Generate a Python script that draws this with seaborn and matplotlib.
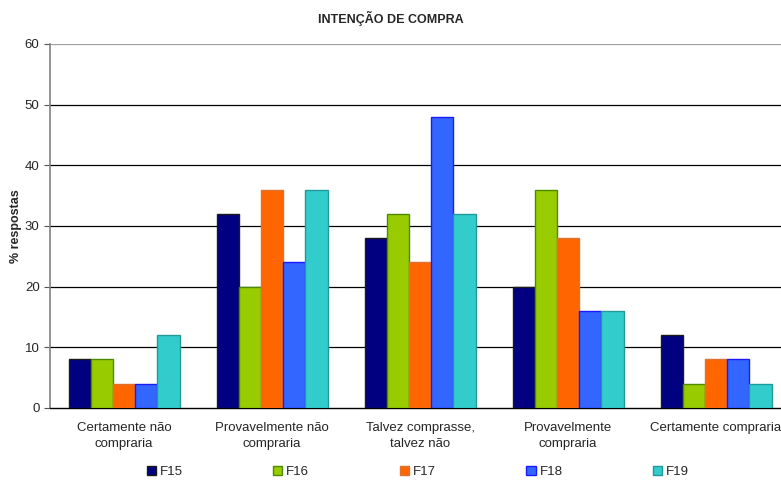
import matplotlib
matplotlib.use("Agg")
import matplotlib.pyplot as plt
import seaborn as sns
import pandas as pd
import numpy as np

categories = ["Certamente não\ncompraria", "Provavelmente não\ncompraria",
              "Talvez comprasse,\ntalvez não", "Provavelmente\ncompraria",
              "Certamente compraria"]
series = ["F15", "F16", "F17", "F18", "F19"]
F15 = [8, 32, 28, 20, 12]
F16 = [8, 20, 32, 36, 4]
F17 = [4, 36, 24, 28, 8]
F18 = [4, 24, 48, 16, 8]
F19 = [12, 36, 32, 16, 4]
colors = ["#000080", "#99CC00", "#FF6600", "#3366FF", "#33CCCC"]
edges = ["#1a1a1a", "#4d8a00", "#e07030", "#1a1aff", "#229999"]

vals = [F15, F16, F17, F18, F19]
rows = []
for s, v in zip(series, vals):
    for c, x in zip(categories, v):
        rows.append({"cat": c, "serie": s, "val": x})
df = pd.DataFrame(rows)

sns.set_style("white")
plt.rcParams['font.family'] = ['Liberation Sans', 'DejaVu Sans']

fig = plt.figure(figsize=(7.81, 4.80), dpi=100)
ax = fig.add_axes([50/781, 1-408/480, 740/781, (408-44)/480])

sns.barplot(data=df, x="cat", y="val", hue="serie", palette=colors,
            order=categories, hue_order=series, width=0.75, ax=ax,
            saturation=1, zorder=3, legend=True)

for cont, ec in zip(ax.containers, edges):
    for p in cont.patches:
        p.set_edgecolor(ec)
        p.set_linewidth(1)

ax.set_ylim(0, 60)
ax.set_xlim(-0.5, 4.5)
ax.set_yticks(range(0, 61, 10))
for yv in range(10, 61, 10):
    ax.axhline(yv, color="#000000" if yv < 60 else "#a0a0a0", lw=0.9, zorder=1)

ax.set_xticks(range(5))
ax.set_xticklabels(categories, fontsize=9.5, linespacing=1.45)
ax.set_xticks(np.arange(-0.5, 5, 1), minor=True)
ax.tick_params(axis="x", which="major", length=0, pad=10)
ax.tick_params(axis="x", which="minor", length=5, color="#555555", direction="out")
ax.tick_params(axis="y", length=4, color="#555555", direction="out", labelsize=9.5, left=True)

for s in ["top", "right"]:
    ax.spines[s].set_visible(False)
ax.spines["left"].set_color("#808080")
ax.spines["left"].set_linewidth(1.2)
ax.spines["bottom"].set_color("#000000")
ax.spines["bottom"].set_linewidth(1)

ax.set_xlabel("")
ax.set_ylabel("")
fig.text(16/781, 1-226/480, "% respostas", ha="center", va="center", rotation=90,
         fontsize=9, fontweight="bold")
fig.text(0.5, 1-18/480, "INTENÇÃO DE COMPRA", ha="center", va="center",
         fontsize=9, fontweight="bold")

leg = ax.legend(loc="center", bbox_to_anchor=(0.535, 1-472/480),
                bbox_transform=fig.transFigure, ncol=5, frameon=False,
                fontsize=9.5, handlelength=0.7, handleheight=0.7,
                columnspacing=6.85, handletextpad=0.3)
for h, ec in zip(leg.legend_handles, edges):
    h.set_edgecolor(ec)

fig.savefig("out.png", dpi=100)
